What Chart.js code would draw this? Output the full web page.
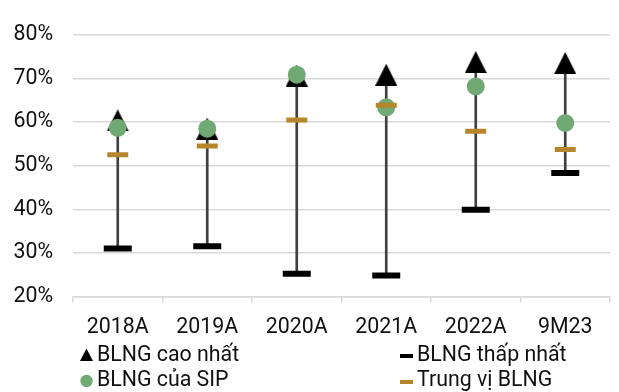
<!DOCTYPE html>
<html>
<head>
<meta charset="utf-8">
<script src="https://cdn.jsdelivr.net/npm/chart.js@4"></script>
<style>
  html, body { margin: 0; padding: 0; background: #fff; }
  #wrap { width: 619px; height: 392px; position: relative; }
</style>
</head>
<body>
<div id="wrap"><canvas id="blng"></canvas></div>
<script>
var categories = ['2018A', '2019A', '2020A', '2021A', '2022A', '9M23'];
var maxValues = [60.4, 58.5, 70.7, 70.9, 73.8, 73.6];
var minValues = [31.0, 31.5, 25.2, 24.8, 39.9, 48.3];
var sipValues = [58.7, 58.5, 70.9, 63.4, 68.2, 59.8];
var medianValues = [52.5, 54.5, 60.5, 63.9, 57.9, 53.7];
var seriesLabels = ['BLNG cao nhất', 'BLNG thấp nhất', 'BLNG của SIP', 'Trung vị BLNG'];

var GREEN = '#71a974';
var GOLD = '#b5862c';
var FONT = 'Roboto';
var FONT_SIZE = 21.33;

// triangle marker as a small canvas so it sits centred on the value
function triangleIcon(w, h) {
  var c = document.createElement('canvas');
  c.width = w; c.height = h;
  var g = c.getContext('2d');
  g.fillStyle = '#000';
  g.beginPath();
  g.moveTo(w / 2, 0);
  g.lineTo(w, h);
  g.lineTo(0, h);
  g.closePath();
  g.fill();
  return c;
}

var rangeData = minValues.map(function (v, i) { return [v, maxValues[i]]; });

// two-column legend under the axis
var splitLegend = {
  id: 'splitLegend',
  afterDraw: function (chart) {
    var ctx = chart.ctx;
    var cols = [80, 400];
    var rows = [356, 381];
    ctx.save();
    ctx.font = FONT_SIZE + 'px ' + FONT;
    ctx.textBaseline = 'middle';
    var items = [
      {text: seriesLabels[0], col: 0, row: 0, draw: function (x, y) {
        ctx.fillStyle = '#000';
        ctx.beginPath();
        ctx.moveTo(x + 6.5, y - 7.5);
        ctx.lineTo(x + 13, y + 5);
        ctx.lineTo(x, y + 5);
        ctx.closePath();
        ctx.fill();
      }},
      {text: seriesLabels[1], col: 1, row: 0, draw: function (x, y) {
        ctx.fillStyle = '#000';
        ctx.fillRect(x, y - 2, 13, 4);
      }},
      {text: seriesLabels[2], col: 0, row: 1, draw: function (x, y) {
        ctx.fillStyle = GREEN;
        ctx.beginPath();
        ctx.arc(x + 6.5, y, 6.2, 0, Math.PI * 2);
        ctx.fill();
      }},
      {text: seriesLabels[3], col: 1, row: 1, draw: function (x, y) {
        ctx.fillStyle = GOLD;
        ctx.fillRect(x, y - 1, 13, 4);
      }}
    ];
    items.forEach(function (it) {
      var x = cols[it.col];
      var y = rows[it.row];
      it.draw(x, y);
      ctx.fillStyle = '#111';
      ctx.fillText(it.text, x + 17, y);
    });
    ctx.restore();
  }
};

new Chart(document.getElementById('blng').getContext('2d'), {
  data: {
    labels: categories,
    datasets: [
      {
        type: 'bar',
        label: 'range',
        data: rangeData,
        backgroundColor: '#404040',
        barThickness: 2,
        order: 5
      },
      {
        type: 'line',
        label: seriesLabels[0],
        data: maxValues,
        showLine: false,
        pointStyle: triangleIcon(22, 22),
        order: 4
      },
      {
        type: 'line',
        label: seriesLabels[1],
        data: minValues,
        showLine: false,
        pointStyle: 'line',
        pointRadius: 14,
        pointBorderWidth: 6,
        pointBorderColor: '#000',
        order: 3
      },
      {
        type: 'line',
        label: seriesLabels[2],
        data: sipValues,
        showLine: false,
        pointStyle: 'circle',
        pointRadius: 9,
        pointBorderWidth: 0,
        pointBackgroundColor: GREEN,
        order: 2
      },
      {
        type: 'line',
        label: seriesLabels[3],
        data: medianValues,
        showLine: false,
        pointStyle: 'line',
        pointRadius: 10.5,
        pointBorderWidth: 5,
        pointBorderColor: GOLD,
        order: 1
      }
    ]
  },
  options: {
    responsive: true,
    maintainAspectRatio: false,
    animation: false,
    events: [],
    layout: {
      autoPadding: false,
      padding: {left: 13, right: 9, top: 35, bottom: 40}
    },
    plugins: {
      legend: {display: false},
      tooltip: {enabled: false}
    },
    scales: {
      x: {
        offset: true,
        grid: {
          offset: true,
          drawOnChartArea: false,
          drawTicks: true,
          tickLength: 6,
          color: '#d9d9d9',
          lineWidth: 1.5
        },
        border: {color: '#d9d9d9', width: 1.5},
        ticks: {
          color: '#111',
          padding: 12,
          font: {family: FONT, size: FONT_SIZE}
        }
      },
      y: {
        min: 20,
        max: 80,
        // axis is label width plus the 20px gap to the plot
        afterFit: function (s) { s.width = 60; },
        grid: {
          drawTicks: false,
          color: '#d9d9d9',
          lineWidth: 1.5
        },
        border: {display: false},
        ticks: {
          stepSize: 10,
          padding: 20,
          color: '#111',
          font: {family: FONT, size: FONT_SIZE},
          callback: function (v) { return v + '%'; }
        }
      }
    }
  },
  plugins: [splitLegend]
});
</script>
</body>
</html>
